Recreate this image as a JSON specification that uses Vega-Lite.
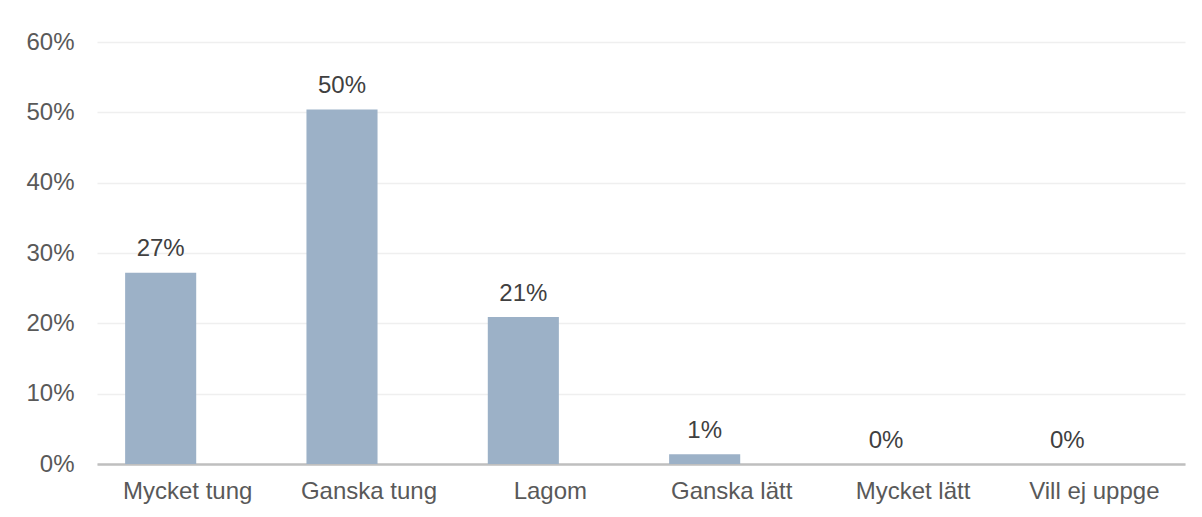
{
  "$schema": "https://vega.github.io/schema/vega-lite/v6.json",
  "width": 1088,
  "height": 422,
  "autosize": "none",
  "padding": {"left": 97, "top": 42, "right": 17, "bottom": 53},
  "background": "white",
  "config": {
    "view": {"stroke": null},
    "font": "Liberation Sans"
  },
  "data": {
    "values": [
      {"kategori": "Mycket tung", "andel": 0.272},
      {"kategori": "Ganska tung", "andel": 0.504},
      {"kategori": "Lagom", "andel": 0.209},
      {"kategori": "Ganska lätt", "andel": 0.014},
      {"kategori": "Mycket lätt", "andel": 0},
      {"kategori": "Vill ej uppge", "andel": 0}
    ]
  },
  "encoding": {
    "x": {
      "field": "kategori",
      "type": "nominal",
      "sort": null,
      "scale": {"paddingInner": 0, "paddingOuter": 0},
      "axis": {
        "title": null,
        "labelAngle": 0,
        "labelFont": "Liberation Sans",
        "labelFontSize": 24,
        "labelColor": "#595959",
        "labelPadding": 15,
        "ticks": false,
        "domainColor": "#bfbfbf",
        "domainWidth": 2.5,
        "grid": false
      }
    },
    "y": {
      "field": "andel",
      "type": "quantitative",
      "scale": {"domain": [0, 0.6], "nice": false},
      "axis": {
        "title": null,
        "format": ".0%",
        "values": [0, 0.1, 0.2, 0.3, 0.4, 0.5, 0.6],
        "labelFont": "Liberation Sans",
        "labelFontSize": 24,
        "labelColor": "#595959",
        "labelPadding": 23,
        "ticks": false,
        "domain": false,
        "gridColor": "#efefef",
        "gridWidth": 1.3
      }
    }
  },
  "layer": [
    {
      "mark": {"type": "bar", "color": "#9cb1c7", "width": {"band": 0.392}, "xOffset": -27}
    },
    {
      "mark": {
        "type": "text",
        "xOffset": -27,
        "dy": -16.5,
        "baseline": "alphabetic",
        "fontSize": 24,
        "color": "#404040",
        "font": "Liberation Sans"
      },
      "encoding": {
        "text": {"field": "andel", "type": "quantitative", "format": ".0%"}
      }
    }
  ]
}
